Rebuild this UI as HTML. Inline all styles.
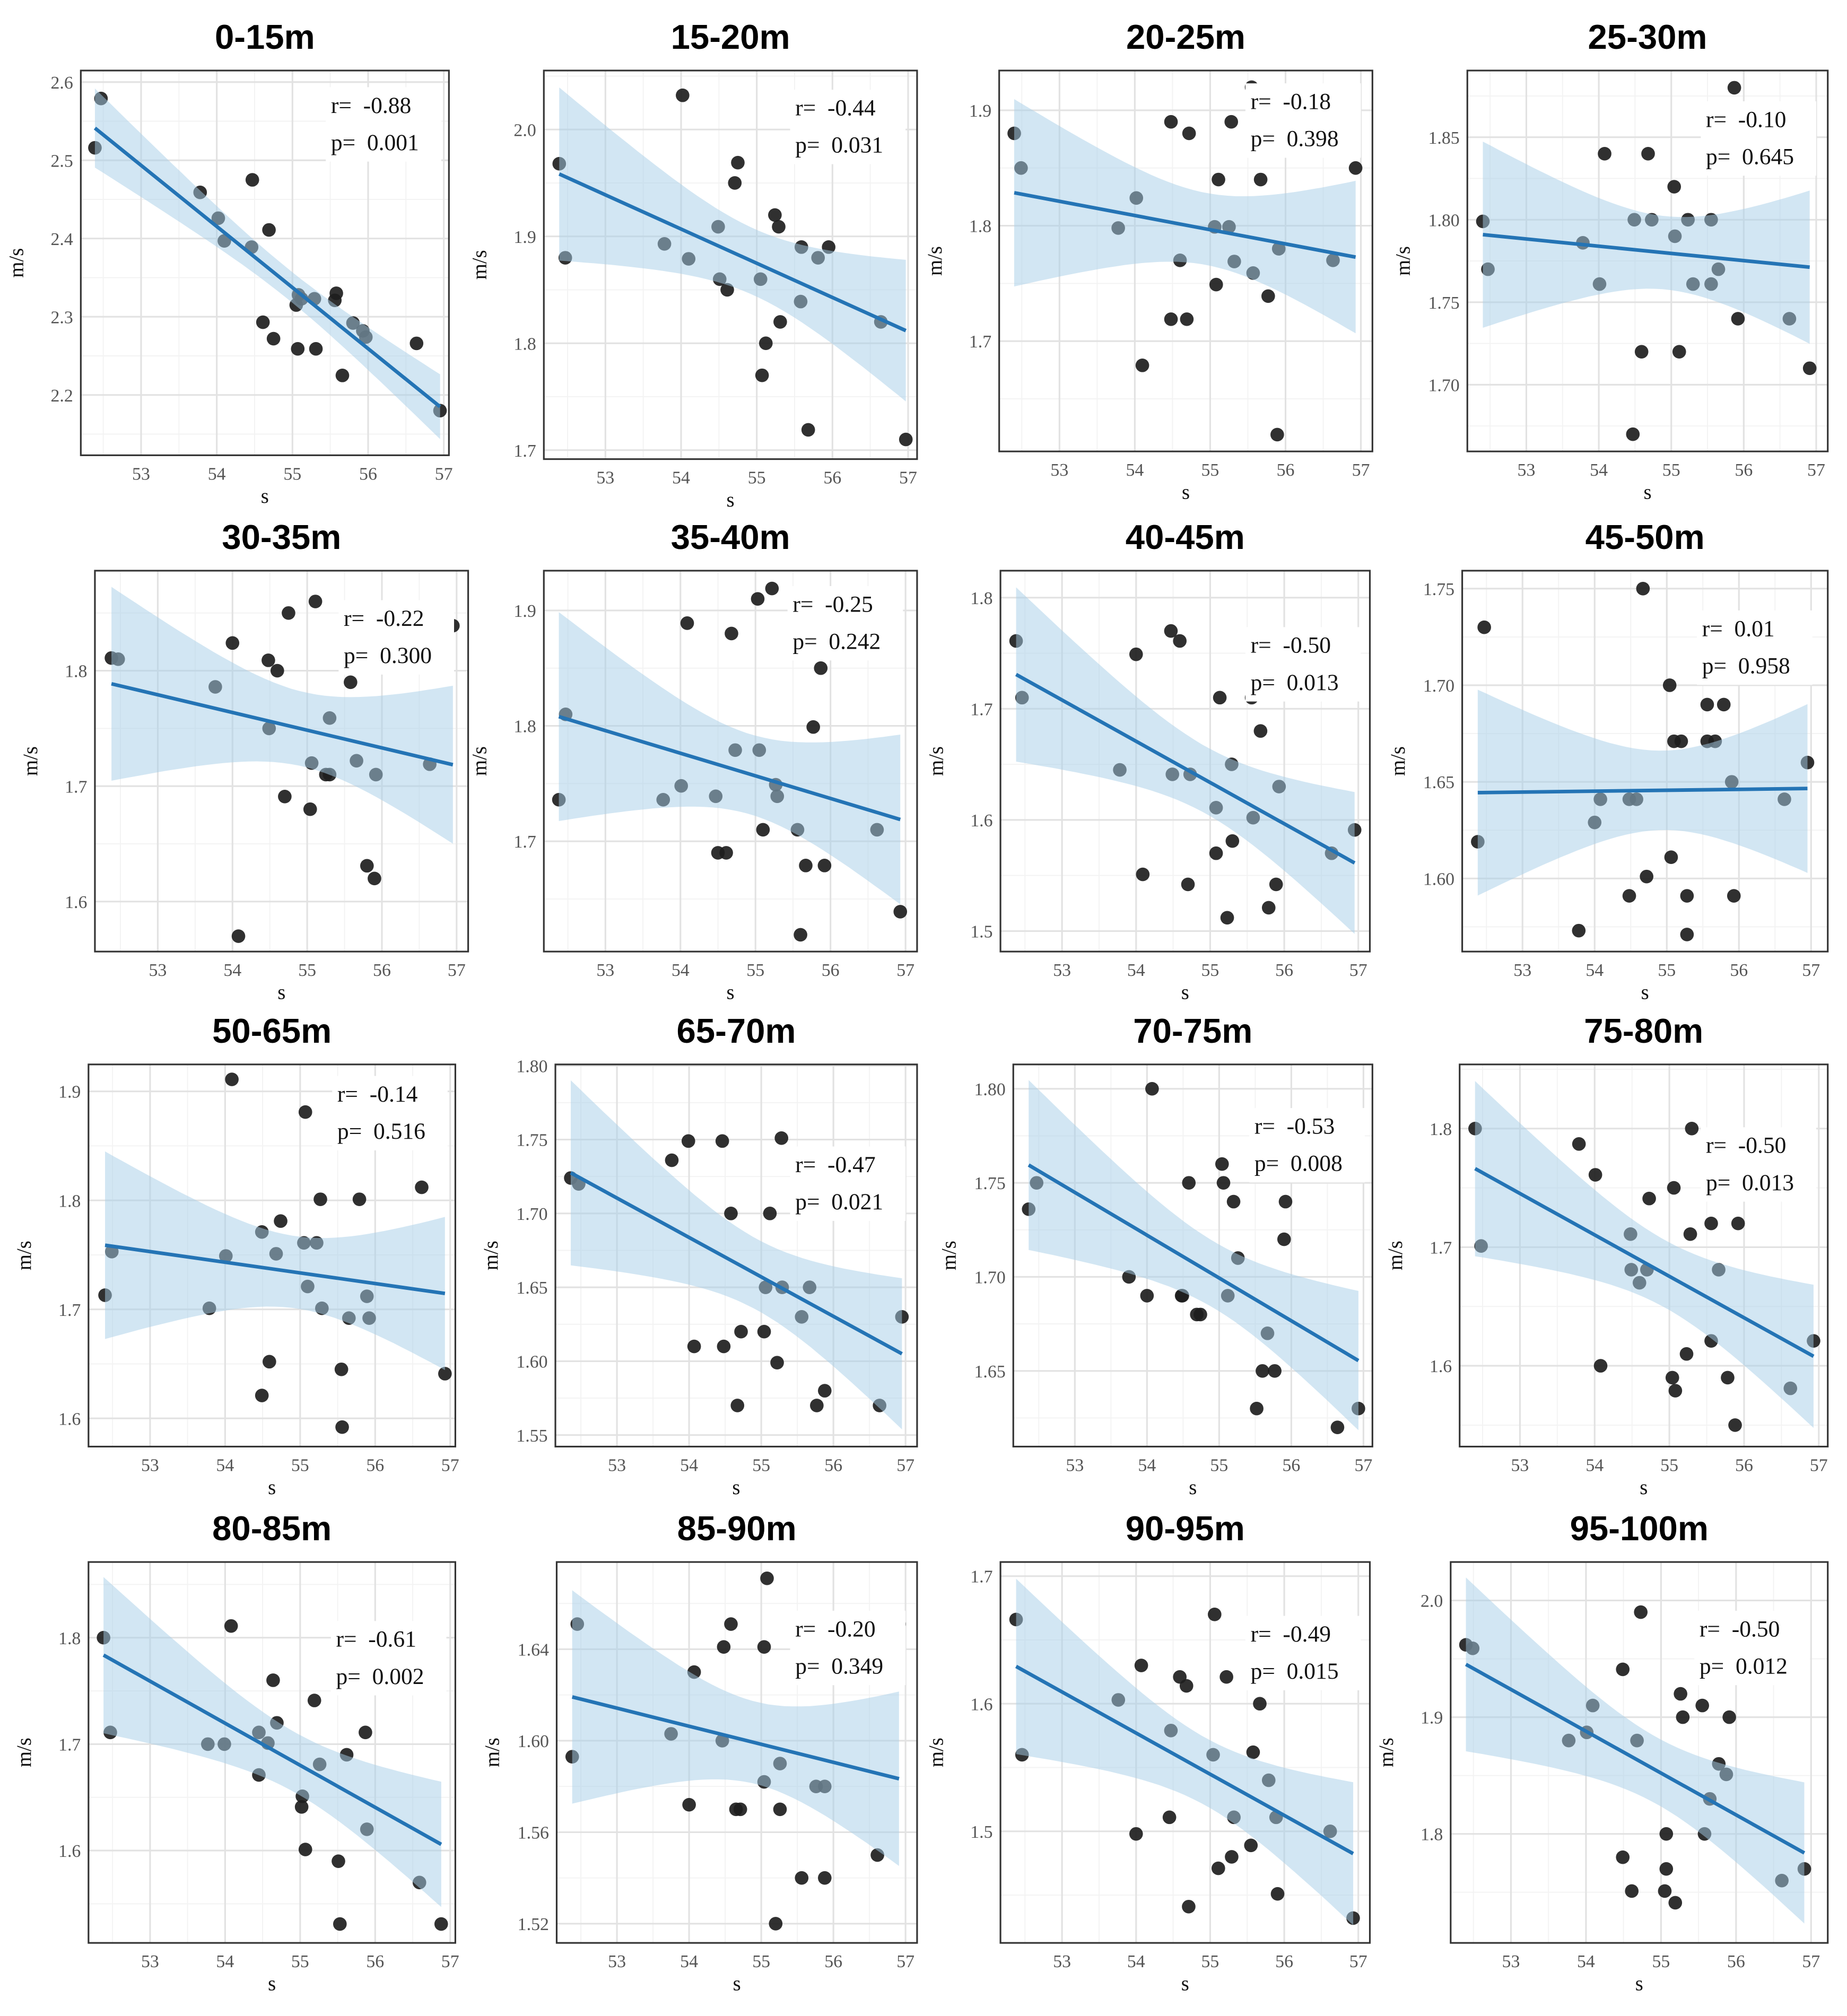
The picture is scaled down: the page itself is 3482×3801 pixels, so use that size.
<!DOCTYPE html>
<html><head><meta charset="utf-8"><style>
html,body{margin:0;padding:0;background:#fff}
svg{display:block}
.tt{font-family:"Liberation Sans",sans-serif;font-weight:bold;font-size:27px;fill:#000}
.tk{font-family:"Liberation Serif",serif;font-size:14px;fill:#555}
.al{font-family:"Liberation Serif",serif;font-size:16px;fill:#111}
.rp{font-family:"Liberation Serif",serif;font-size:18px;fill:#111}
</style></head><body>
<svg id="chart" width="3482" height="3801" viewBox="0 0 1440 1572" preserveAspectRatio="none" xmlns="http://www.w3.org/2000/svg"></svg>
<script>
const titles=["0-15m","15-20m","20-25m","25-30m","30-35m","35-40m","40-45m","45-50m","50-65m","65-70m","70-75m","75-80m","80-85m","85-90m","90-95m","95-100m"];
const rLabels=["-0.88","-0.44","-0.18","-0.10","-0.22","-0.25","-0.50","0.01","-0.14","-0.47","-0.53","-0.50","-0.61","-0.20","-0.49","-0.50"];
const pLabels=["0.001","0.031","0.398","0.645","0.300","0.242","0.013","0.958","0.516","0.021","0.008","0.013","0.002","0.349","0.015","0.012"];
const xTicks=[53,54,55,56,57];
const yTicks=[[2.2,2.3,2.4,2.5,2.6],[1.7,1.8,1.9,2.0],[1.7,1.8,1.9],[1.70,1.75,1.80,1.85],[1.6,1.7,1.8],[1.7,1.8,1.9],[1.5,1.6,1.7,1.8],[1.60,1.65,1.70,1.75],[1.6,1.7,1.8,1.9],[1.55,1.60,1.65,1.70,1.75,1.80],[1.65,1.70,1.75,1.80],[1.6,1.7,1.8],[1.6,1.7,1.8],[1.52,1.56,1.60,1.64],[1.5,1.6,1.7],[1.8,1.9,2.0]];
const yDec=[1,1,1,2,1,1,1,2,1,2,2,1,1,2,1,1];
const xs=[
[52.39,52.47,53.78,54.02,54.10,54.47,54.46,54.69,54.61,54.75,55.05,55.07,55.08,55.12,55.29,55.31,55.58,55.56,55.66,55.80,55.93,55.97,56.64,56.95],
[52.39,52.47,53.78,54.02,54.10,54.49,54.51,54.61,54.71,54.75,55.05,55.07,55.12,55.24,55.29,55.31,55.58,55.59,55.68,55.81,55.92,55.95,56.64,56.97],
[52.40,52.49,53.78,54.02,54.10,54.48,54.48,54.60,54.72,54.69,55.06,55.08,55.11,55.25,55.28,55.32,55.55,55.57,55.67,55.77,55.89,55.91,56.63,56.93],
[52.40,52.47,53.78,54.01,54.08,54.49,54.47,54.59,54.68,54.73,55.04,55.05,55.11,55.23,55.30,55.55,55.55,55.65,55.78,55.87,55.92,56.63,56.91],
[52.38,52.47,53.77,54.00,54.08,54.48,54.49,54.60,54.70,54.75,55.06,55.04,55.11,55.25,55.30,55.30,55.56,55.58,55.66,55.80,55.90,55.92,56.64,56.95],
[52.38,52.47,53.77,54.01,54.09,54.47,54.50,54.61,54.68,54.73,55.05,55.03,55.10,55.22,55.27,55.29,55.56,55.60,55.67,55.77,55.87,55.92,56.62,56.93],
[52.38,52.46,53.78,54.00,54.09,54.47,54.49,54.59,54.70,54.73,55.08,55.08,55.13,55.23,55.29,55.30,55.56,55.58,55.68,55.79,55.89,55.93,56.64,56.95],
[52.38,52.47,53.78,54.00,54.08,54.48,54.48,54.58,54.72,54.67,55.04,55.06,55.10,55.20,55.28,55.28,55.56,55.56,55.67,55.79,55.90,55.93,56.63,56.95],
[52.40,52.49,53.79,54.01,54.09,54.49,54.49,54.59,54.68,54.74,55.05,55.07,55.10,55.22,55.27,55.29,55.55,55.56,55.65,55.79,55.89,55.92,56.62,56.93],
[52.36,52.47,53.76,53.99,54.07,54.46,54.48,54.58,54.67,54.72,55.04,55.06,55.12,55.22,55.28,55.29,55.54,55.56,55.67,55.77,55.88,55.93,56.64,56.95],
[52.36,52.47,53.75,54.00,54.07,54.48,54.49,54.58,54.69,54.74,55.04,55.06,55.12,55.20,55.26,55.52,55.60,55.67,55.77,55.90,55.92,56.64,56.93],
[52.40,52.48,53.79,54.01,54.08,54.48,54.49,54.60,54.70,54.73,55.04,55.06,55.08,55.23,55.28,55.30,55.56,55.56,55.66,55.78,55.88,55.92,56.62,56.93],
[52.38,52.47,53.77,53.99,54.08,54.45,54.45,54.57,54.64,54.69,55.02,55.03,55.07,55.19,55.26,55.51,55.53,55.62,55.72,55.75,55.87,55.89,56.59,56.88],
[52.38,52.45,53.75,54.00,54.07,54.46,54.48,54.58,54.65,54.71,55.04,55.04,55.08,55.20,55.26,55.26,55.54,55.56,55.63,55.76,55.88,55.88,56.61,56.91],
[52.38,52.46,53.76,54.00,54.07,54.45,54.47,54.59,54.68,54.71,55.04,55.06,55.11,55.22,55.29,55.32,55.55,55.58,55.67,55.79,55.89,55.91,56.62,56.93],
[52.40,52.49,53.77,54.01,54.09,54.49,54.49,54.61,54.68,54.73,55.05,55.07,55.07,55.19,55.26,55.29,55.55,55.58,55.65,55.77,55.87,55.91,56.61,56.91]];
const ys=[
[2.516,2.579,2.459,2.426,2.397,2.475,2.389,2.411,2.293,2.272,2.315,2.259,2.328,2.323,2.323,2.259,2.330,2.321,2.225,2.292,2.282,2.274,2.266,2.180],
[1.968,1.880,1.893,2.032,1.879,1.909,1.860,1.850,1.950,1.969,1.860,1.770,1.800,1.920,1.909,1.820,1.839,1.890,1.719,1.880,2.010,1.890,1.820,1.710],
[1.880,1.850,1.798,1.824,1.679,1.890,1.719,1.770,1.880,1.719,1.799,1.749,1.840,1.799,1.890,1.769,1.920,1.759,1.840,1.739,1.619,1.780,1.770,1.850],
[1.799,1.770,1.786,1.761,1.840,1.800,1.670,1.720,1.840,1.800,1.820,1.790,1.720,1.800,1.761,1.800,1.761,1.770,1.860,1.880,1.740,1.740,1.710],
[1.811,1.810,1.786,1.824,1.570,1.809,1.750,1.800,1.691,1.850,1.720,1.680,1.860,1.710,1.710,1.759,1.811,1.790,1.722,1.631,1.620,1.710,1.719,1.839],
[1.736,1.810,1.736,1.748,1.889,1.739,1.690,1.690,1.880,1.779,1.779,1.910,1.710,1.919,1.749,1.739,1.710,1.619,1.679,1.799,1.850,1.679,1.710,1.639],
[1.761,1.710,1.645,1.749,1.551,1.770,1.641,1.761,1.542,1.641,1.611,1.570,1.710,1.512,1.650,1.581,1.710,1.602,1.680,1.521,1.542,1.630,1.570,1.591],
[1.619,1.730,1.573,1.629,1.641,1.641,1.591,1.641,1.601,1.750,1.700,1.611,1.671,1.671,1.591,1.571,1.671,1.690,1.671,1.690,1.650,1.591,1.641,1.660],
[1.713,1.753,1.701,1.749,1.911,1.771,1.621,1.652,1.751,1.781,1.761,1.881,1.721,1.761,1.801,1.701,1.645,1.592,1.692,1.801,1.712,1.692,1.812,1.641],
[1.724,1.720,1.736,1.749,1.610,1.749,1.610,1.700,1.570,1.620,1.620,1.650,1.700,1.599,1.751,1.650,1.700,1.630,1.650,1.570,1.580,1.721,1.570,1.630],
[1.736,1.750,1.700,1.690,1.800,1.690,1.690,1.750,1.680,1.680,1.760,1.750,1.690,1.740,1.710,1.630,1.650,1.670,1.650,1.720,1.740,1.620,1.630],
[1.800,1.701,1.787,1.761,1.600,1.711,1.681,1.670,1.681,1.741,1.590,1.750,1.579,1.610,1.711,1.800,1.720,1.621,1.681,1.590,1.550,1.720,1.581,1.621],
[1.800,1.711,1.700,1.700,1.811,1.711,1.671,1.701,1.760,1.720,1.641,1.651,1.601,1.741,1.681,1.590,1.531,1.690,1.770,1.772,1.711,1.620,1.570,1.531],
[1.593,1.651,1.603,1.572,1.630,1.600,1.641,1.651,1.570,1.570,1.582,1.641,1.671,1.520,1.590,1.570,1.630,1.540,1.651,1.580,1.580,1.540,1.550,1.651],
[1.666,1.560,1.603,1.498,1.630,1.511,1.579,1.621,1.614,1.441,1.560,1.670,1.471,1.621,1.480,1.511,1.489,1.562,1.600,1.540,1.511,1.451,1.500,1.432],
[1.962,1.959,1.880,1.887,1.910,1.780,1.941,1.751,1.880,1.990,1.751,1.770,1.800,1.741,1.920,1.900,1.910,1.800,1.830,1.860,1.851,1.900,1.760,1.770]];
// layout (display units): box x0,x1,y0,y1 ; px of 53 and 57 ; y ref (v1,p1,v2,p2) ; label pos
const L=[
[63,350,55,355,110,346,2.6,64,2.2,308,258,88],
[424,715,55,358,472,708,2.0,101,1.7,351,620,90],
[779,1070,55,352,826,1061,1.9,86,1.7,266,975,85],
[1144,1425,55,352,1190,1416,1.85,107,1.70,300,1330,99],
[74,365,445,742,123,356,1.8,523,1.6,703,268,488],
[424,715,445,742,472,706,1.9,476,1.7,656,618,477],
[780,1068,445,742,828,1059,1.8,466,1.5,726,975,509],
[1140,1425,445,742,1187,1412,1.75,459,1.60,685,1327,496],
[69,355,830,1128,117,351,1.9,851,1.6,1106,263,859],
[433,715,830,1128,481,706,1.80,831,1.55,1119,620,914],
[790,1070,830,1128,838,1063,1.80,849,1.65,1069,978,884],
[1138,1425,830,1128,1185,1418,1.8,880,1.6,1065,1330,899],
[69,355,1218,1515,117,351,1.8,1277,1.6,1443,262,1284],
[434,715,1218,1515,481,706,1.64,1286,1.52,1500,620,1276],
[780,1068,1218,1515,828,1059,1.7,1229,1.5,1428,975,1280],
[1131,1425,1218,1515,1178,1412,2.0,1248,1.8,1430,1325,1276]];
const NS="http://www.w3.org/2000/svg";
const svg=document.getElementById('chart');
function mk(t,a,p){const e=document.createElementNS(NS,t);for(const k in a)e.setAttribute(k,a[k]);(p||svg).appendChild(e);return e;}
for(let i=0;i<16;i++){
 const [x0,x1,y0,y1,p53,p57,v1,py1,v2,py2,lx,ly]=L[i];
 const sx=v=>p53+(v-53)*(p57-p53)/4;
 const sy=v=>py1+(v-v1)*(py2-py1)/(v2-v1);
 const g=mk('g',{});
 
 
 const t=mk('text',{x:(x0+x1)/2,y:y0-17,'text-anchor':'middle',class:'tt'},g);t.textContent=titles[i];
 
 
 const yt=yTicks[i];const step=yt[1]-yt[0];
 for(let k=-1;k<yt.length;k++){const v=yt[0]+(k+0.5)*step;const y=sy(v);if(y>y0&&y<y1)mk('line',{x1:x0,x2:x1,y1:y,y2:y,stroke:'#f3f3f3','stroke-width':0.8},g);}
 for(let k=52.5;k<57.2;k+=1){const x=sx(k);if(x>x0&&x<x1)mk('line',{x1:x,x2:x,y1:y0,y2:y1,stroke:'#f3f3f3','stroke-width':0.8},g);}
 yt.forEach(v=>{const y=sy(v);mk('line',{x1:x0,x2:x1,y1:y,y2:y,stroke:'#e2e2e2','stroke-width':1.3},g);
  const tx=mk('text',{x:x0-6,y:y+5,'text-anchor':'end',class:'tk'},g);tx.textContent=v.toFixed(yDec[i]);
  
  });
 xTicks.forEach(v=>{const x=sx(v);mk('line',{x1:x,x2:x,y1:y0,y2:y1,stroke:'#e2e2e2','stroke-width':1.3},g);
  const tx=mk('text',{x:x,y:y1+19,'text-anchor':'middle',class:'tk'},g);tx.textContent=v;
  
  });
 const X=xs[i],Y=ys[i];
 X.forEach((xv,j)=>{const c=mk('circle',{cx:sx(xv),cy:sy(Y[j]),r:5.3,fill:'#1e1e1e','fill-opacity':0.92},g);
  
  });
 const n=X.length;let mx=0,my=0;X.forEach((v,j)=>{mx+=v;my+=Y[j];});mx/=n;my/=n;
 let sxx=0,sxy=0;X.forEach((v,j)=>{sxx+=(v-mx)**2;sxy+=(v-mx)*(Y[j]-my);});
 const b=sxy/sxx,a=my-b*mx;let sse=0;X.forEach((v,j)=>{sse+=(Y[j]-a-b*v)**2;});
 const s=Math.sqrt(sse/(n-2)),tq=2.074;
 const xa=Math.min(...X),xb=Math.max(...X);const up=[],lo=[];
 for(let k=0;k<=40;k++){const xv=xa+(xb-xa)*k/40;const f=a+b*xv;const se=s*Math.sqrt(1/n+(xv-mx)**2/sxx);
  up.push(sx(xv).toFixed(1)+','+sy(f+tq*se).toFixed(1));lo.unshift(sx(xv).toFixed(1)+','+sy(f-tq*se).toFixed(1));}
 const band=mk('polygon',{points:up.concat(lo).join(' '),fill:'#a6cee8','fill-opacity':0.5},g);
 
 
 const ln=mk('line',{x1:sx(xa),y1:sy(a+b*xa),x2:sx(xb),y2:sy(a+b*xb),stroke:'#2474b5','stroke-width':2.8},g);
 
 
 mk('rect',{x:x0,y:y0,width:x1-x0,height:y1-y0,fill:'none',stroke:'#333','stroke-width':1.3},g);
 mk('rect',{x:lx-4,y:ly-20,width:90,height:58,fill:'#fff'},g);
 const r=mk('text',{x:lx,y:ly,class:'rp'},g);r.textContent='r=  '+rLabels[i];r.style.whiteSpace='pre';
 
 
 const p=mk('text',{x:lx,y:ly+29,class:'rp'},g);p.textContent='p=  '+pLabels[i];p.style.whiteSpace='pre';
 
 
 const yl=mk('text',{x:0,y:0,'text-anchor':'middle',class:'al',transform:`translate(${x0-45},${(y0+y1)/2}) rotate(-90)`},g);yl.textContent='m/s';
 
 
 const xl=mk('text',{x:(x0+x1)/2,y:y1+37,'text-anchor':'middle',class:'al'},g);xl.textContent='s';
 
 
}
</script>
</body></html>
